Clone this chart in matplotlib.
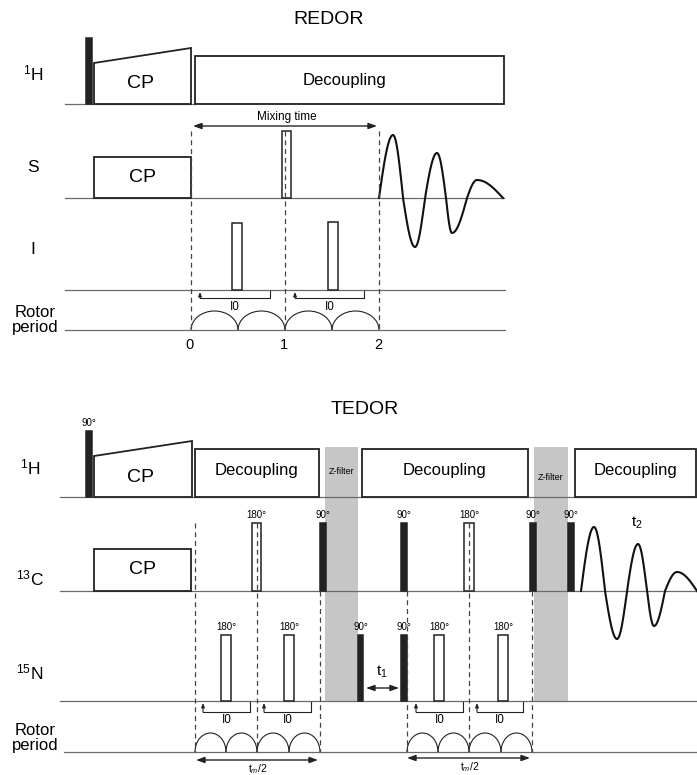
import numpy as np
import matplotlib
matplotlib.use('Agg')
import matplotlib.pyplot as plt
from matplotlib.patches import Rectangle, Polygon, Arc

plt.rcParams['font.family'] = ['Liberation Sans', 'DejaVu Sans']
plt.rcParams['mathtext.fontset'] = 'custom'
plt.rcParams['mathtext.rm'] = 'Liberation Sans'
plt.rcParams['mathtext.it'] = 'Liberation Sans:italic'

INK = '#222222'
BASE = '#6a6a6a'
BAND = '#c6c6c6'

# ---------------- REDOR ----------------
redor_labels = [r'$^{1}$H', 'S', 'I']
redor_label_y = [73, 167, 250]
redor_baselines = [(104, 65, 195), (198, 65, 504), (290, 65, 505), (330, 65, 505)]
redor_h90 = (86, 92, 38)                     # x0, x1, top
redor_ramp = (94, 191, 63, 48)               # x0, x1, top left, top right
redor_decoupling = (195, 504, 56)            # x0, x1, top
redor_s_cp = (94, 191, 157)
redor_s_pulses = [(282, 291, 131)]
redor_i_pulses = [(232, 242, 223), (328, 338, 222)]
redor_dashed = [191, 285, 379]
redor_brackets = [(200, 270), (295, 364)]
redor_rotor_edges = [191, 238, 285, 332, 379]
redor_rotor_ticks = ['0', '1', '2']
redor_fid_zeros = [379, 403, 425, 446, 467, 503]
redor_fid_peaks = [(393, 135), (415, 247), (437, 153), (452, 233), (477, 180)]

# ---------------- TEDOR ----------------
tedor_labels = [r'$^{1}$H', r'$^{13}$C', r'$^{15}$N']
tedor_label_y = [467, 578, 672]
tedor_baselines = [497, 591, 701, 752]
tedor_h90 = (86, 92, 431)
tedor_ramp = (94, 192, 456, 441)
tedor_decoupling = [(195, 319), (362, 528), (575, 696)]
tedor_zfilter = [(325, 358, 472), (534, 568, 478)]
tedor_c_cp = (94, 191, 549)
# (x0, x1, filled, label)
tedor_c_pulses = [(252, 261, False, '180°'), (320, 326, True, '90°'), (401, 407, True, '90°'),
                  (464, 474, False, '180°'), (530, 536, True, '90°'), (568, 574, True, '90°')]
tedor_n_pulses = [(221, 231, False, '180°'), (284, 294, False, '180°'), (358, 363, True, '90°'),
                  (401, 407, True, '90°'), (434, 444, False, '180°'), (498, 508, False, '180°')]
tedor_dashed = [(195, 523), (257, 523), (320, 591), (407, 591), (469, 523), (532, 591)]
tedor_brackets = [(203, 250), (264, 311), (416, 463), (477, 523)]
tedor_rotor_edges = [[195, 226, 257, 289, 320], [407, 438, 469, 501, 532]]
tedor_mix_arrows = [(196, 318, 760), (407, 530, 758)]
tedor_fid_zeros = [581, 605, 627, 647, 665, 697]
tedor_fid_peaks = [(594, 527), (617, 639), (638, 544), (654, 626), (677, 572)]


def baseline(ax, y, x0, x1):
    ax.plot([x0, x1], [y, y], color=BASE, lw=0.9, zorder=2)


def box(ax, x0, x1, top, bottom, text=None, fs=12, ty=None, tx=None):
    ax.add_patch(Rectangle((x0, top), x1 - x0, bottom - top, facecolor='white',
                           edgecolor=INK, lw=1.3, zorder=3))
    if text:
        ax.text(tx if tx else (x0 + x1) / 2, ty if ty else (top + bottom) / 2, text,
                fontsize=fs, ha='center', va='center', zorder=5)


def ramp(ax, x0, x1, t0, t1, bottom, ty):
    ax.add_patch(Polygon([(x0, bottom), (x0, t0), (x1, t1), (x1, bottom)], closed=True,
                         facecolor='white', edgecolor=INK, lw=1.3, zorder=3))
    ax.text((x0 + x1) / 2 - 2, ty, 'CP', fontsize=14, ha='center', va='center', zorder=5)


def pulse(ax, x0, x1, top, bottom, filled, label=None):
    ax.add_patch(Rectangle((x0, top), x1 - x0, bottom - top,
                           facecolor=INK if filled else 'white',
                           edgecolor=INK, lw=1.1, zorder=4))
    if label:
        ax.text((x0 + x1) / 2, top - 8, label, fontsize=7, ha='center', va='center',
                zorder=5)


def dashed(ax, x, y0, y1):
    ax.plot([x, x], [y0, y1], color='#444444', lw=0.9, ls=(0, (4, 3)), zorder=6)


def bracket(ax, x0, x1, base, depth, ty):
    y = base + depth
    ax.plot([x0, x1, x1], [y, y, base + 1], color=INK, lw=0.8, zorder=3)
    ax.annotate('', xy=(x0, base + 2), xytext=(x0, y),
                arrowprops=dict(arrowstyle='-|>,head_length=0.25,head_width=0.1',
                                color=INK, lw=0.8, shrinkA=0, shrinkB=0))
    ax.text((x0 + x1) / 2, ty, 'I0', fontsize=8.5, ha='center', va='center')


def rotor(ax, edges, y, h):
    for a, b in zip(edges[:-1], edges[1:]):
        ax.add_patch(Arc(((a + b) / 2, y), b - a, 2 * h, theta1=180, theta2=360,
                         color=INK, lw=0.8, zorder=3))


def double_arrow(ax, x0, x1, y):
    ax.annotate('', xy=(x0, y), xytext=(x1, y),
                arrowprops=dict(arrowstyle='<|-|>,head_length=0.5,head_width=0.18',
                                color=INK, lw=1.0, shrinkA=0, shrinkB=0))


def fid(ax, zeros, peaks, base):
    # each lobe: quarter sine up to the extreme, quarter cosine back to zero
    xs, ys = [], []
    for (z0, z1), (px, py) in zip(zip(zeros[:-1], zeros[1:]), peaks):
        up = np.linspace(z0, px, 30)
        down = np.linspace(px, z1, 30)
        xs += list(up) + list(down)
        ys += list(base + (py - base) * np.sin(np.pi / 2 * (up - z0) / (px - z0)))
        ys += list(base + (py - base) * np.cos(np.pi / 2 * (down - px) / (z1 - px)))
    ax.plot(xs, ys, color='#111111', lw=1.5, zorder=5)


fig = plt.figure(figsize=(6.97, 7.75), dpi=100)
ax = fig.add_axes([0, 0, 1, 1])
ax.set_xlim(0, 697)
ax.set_ylim(775, 0)
ax.axis('off')

# REDOR
ax.text(329, 20, 'REDOR', fontsize=14, ha='center', va='center')
for lab, y in zip(redor_labels, redor_label_y):
    ax.text(33, y, lab, fontsize=12.5, ha='center', va='center')
ax.text(35, 320, 'Rotor\nperiod', fontsize=12, ha='center', va='center', linespacing=1.05)
for y, x0, x1 in redor_baselines:
    baseline(ax, y, x0, x1)

h1, s_y, i_y, r_y = [b[0] for b in redor_baselines]
pulse(ax, redor_h90[0], redor_h90[1], redor_h90[2], h1, True)
ramp(ax, redor_ramp[0], redor_ramp[1], redor_ramp[2], redor_ramp[3], h1, 83)
box(ax, redor_decoupling[0], redor_decoupling[1], redor_decoupling[2], h1 - 0.5,
    'Decoupling', 12, 80, 344)
box(ax, redor_s_cp[0], redor_s_cp[1], redor_s_cp[2], s_y, 'CP', 14, 178)
for x0, x1, top in redor_s_pulses:
    pulse(ax, x0, x1, top, s_y, False)
for x0, x1, top in redor_i_pulses:
    pulse(ax, x0, x1, top, i_y, False)
for x in redor_dashed:
    dashed(ax, x, 131, r_y)
double_arrow(ax, redor_dashed[0] + 2, redor_dashed[-1] - 2, 126)
ax.text(287, 117, 'Mixing time', fontsize=8.5, ha='center', va='center')
for x0, x1 in redor_brackets:
    bracket(ax, x0, x1, i_y, 8, 307)
rotor(ax, redor_rotor_edges, r_y, 19)
for lab, x in zip(redor_rotor_ticks, redor_dashed):
    ax.text(x - 1, 345, lab, fontsize=10.5, ha='center', va='center')
fid(ax, redor_fid_zeros, redor_fid_peaks, s_y)

# TEDOR
ax.text(365, 410, 'TEDOR', fontsize=14, ha='center', va='center')
for lab, y in zip(tedor_labels, tedor_label_y):
    ax.text(30, y, lab, fontsize=12.5, ha='center', va='center')
ax.text(35, 738, 'Rotor\nperiod', fontsize=12, ha='center', va='center', linespacing=1.05)

th, tc, tn, tr = tedor_baselines
for x0, x1, ty in tedor_zfilter:
    ax.add_patch(Rectangle((x0, 447), x1 - x0, tn - 447, facecolor=BAND,
                           edgecolor='none', zorder=1))
    ax.text((x0 + x1) / 2, ty, 'Z-filter', fontsize=6.5, ha='center', va='center',
            zorder=5)
baseline(ax, th, 60, 697)
baseline(ax, tc, 60, 697)
baseline(ax, tn, 60, 697)
baseline(ax, tr, 64, 697)

pulse(ax, tedor_h90[0], tedor_h90[1], tedor_h90[2], th, True, '90°')
ramp(ax, tedor_ramp[0], tedor_ramp[1], tedor_ramp[2], tedor_ramp[3], th, 478)
for x0, x1 in tedor_decoupling:
    box(ax, x0, x1, 449, th - 0.5, 'Decoupling', 12, 470)
box(ax, tedor_c_cp[0], tedor_c_cp[1], tedor_c_cp[2], tc, 'CP', 14, 569)

for x, top in tedor_dashed:
    dashed(ax, x, top, tr)
for x0, x1, filled, lab in tedor_c_pulses:
    pulse(ax, x0, x1, 523, tc, filled, lab)
for x0, x1, filled, lab in tedor_n_pulses:
    pulse(ax, x0, x1, 635, tn, filled, lab)

for x0, x1 in tedor_brackets:
    bracket(ax, x0, x1, tn, 11, 720)
for edges in tedor_rotor_edges:
    rotor(ax, edges, tr, 19)
for x0, x1, y in tedor_mix_arrows:
    double_arrow(ax, x0, x1, y)
    ax.text((x0 + x1) / 2 + 1, y + 9, r't$_m$/2', fontsize=7.5, ha='center', va='center')

double_arrow(ax, 366, 399, 688)
ax.text(382, 672, r't$_1$', fontsize=11, ha='center', va='center')
fid(ax, tedor_fid_zeros, tedor_fid_peaks, tc)
ax.text(637, 523, r't$_2$', fontsize=11, ha='center', va='center')

fig.savefig('out.png', dpi=100)
